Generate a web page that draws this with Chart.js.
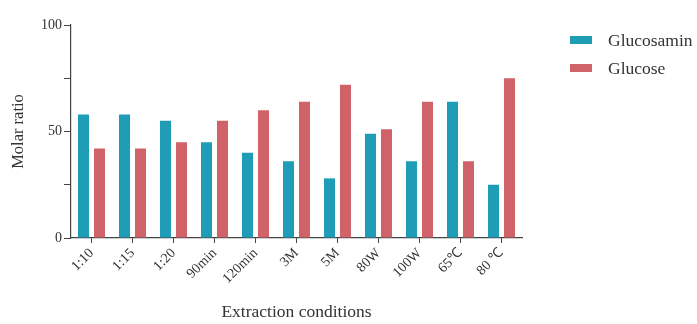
<!DOCTYPE html>
<html>
<head>
<meta charset="utf-8">
<script src="https://cdn.jsdelivr.net/npm/chart.js@4"></script>
<style>
    html, body { margin: 0; padding: 0; background: #fff; }
    #wrap { position: relative; width: 697px; height: 324px; }
    #legend { position: absolute; left: 570px; top: 30px; font-family: "Liberation Serif", serif; font-size: 17.5px; color: #333; }
    #legend .item { display: flex; align-items: center; height: 20px; margin-bottom: 8px; white-space: nowrap; }
    #legend .box { width: 22px; height: 8px; margin-right: 16px; }
</style>
</head>
<body>
<div id="wrap">
    <canvas id="chart" width="697" height="324"></canvas>
    <div id="legend"></div>
</div>
<script>
// 데이터
const categories = ['1:10', '1:15', '1:20', '90min', '120min', '3M', '5M', '80W', '100W', '65℃', '80 ℃'];
const glucosamin = [58, 58, 55, 45, 40, 36, 28, 49, 36, 64, 25];
const glucose = [42, 42, 45, 55, 60, 64, 72, 51, 64, 36, 75];
const seriesNames = ['Glucosamin', 'Glucose'];
const seriesColors = ['#1f9cb6', '#cf6369'];

const textColor = '#333';
const serif = '"Liberation Serif", "Times New Roman", serif';

const ctx = document.getElementById('chart').getContext('2d');
const chart = new Chart(ctx, {
    type: 'bar',
    data: {
        labels: categories,
        datasets: [
            { label: seriesNames[0], data: glucosamin, backgroundColor: seriesColors[0] },
            { label: seriesNames[1], data: glucose, backgroundColor: seriesColors[1] }
        ]
    },
    options: {
        responsive: false,
        animation: false,
        categoryPercentage: 0.78,
        barPercentage: 0.69,
        layout: { padding: { left: 0, right: 175, top: 25, bottom: 0 } },
        plugins: {
            legend: { display: false },
            tooltip: { enabled: false }
        },
        scales: {
            x: {
                grid: { display: true, offset: false, drawOnChartArea: false, drawTicks: true, tickLength: 5, color: '#444', lineWidth: 1 },
                border: { color: '#444', width: 1.2 },
                ticks: { color: textColor, font: { family: serif, size: 14 }, minRotation: 45, maxRotation: 45, padding: 2, autoSkip: false },
                title: { display: true, text: 'Extraction conditions', color: textColor, font: { family: serif, size: 17.5 }, padding: { top: 0, bottom: 1 } },
                afterFit: s => { s.height = 86; }
            },
            y: {
                min: 0, max: 100,
                grid: { display: true, drawOnChartArea: false, drawTicks: true, tickLength: 7, color: '#444', lineWidth: 1 },
                border: { color: '#444', width: 1.2 },
                ticks: {
                    stepSize: 25, color: textColor, padding: 2,
                    font: { family: serif, size: 14 },
                    callback: v => (v % 50 === 0 ? v : '')
                },
                title: { display: true, text: 'Molar ratio', color: textColor, font: { family: serif, size: 16.5 }, padding: { top: 9, bottom: 0 } },
                afterFit: s => { s.width = 71; }
            }
        }
    }
});

// 범례 (HTML)
const legendEl = document.getElementById('legend');
chart.data.datasets.forEach(ds => {
    const item = document.createElement('div');
    item.className = 'item';
    const box = document.createElement('span');
    box.className = 'box';
    box.style.background = ds.backgroundColor;
    const label = document.createElement('span');
    label.textContent = ds.label;
    item.appendChild(box);
    item.appendChild(label);
    legendEl.appendChild(item);
});
</script>
</body>
</html>
